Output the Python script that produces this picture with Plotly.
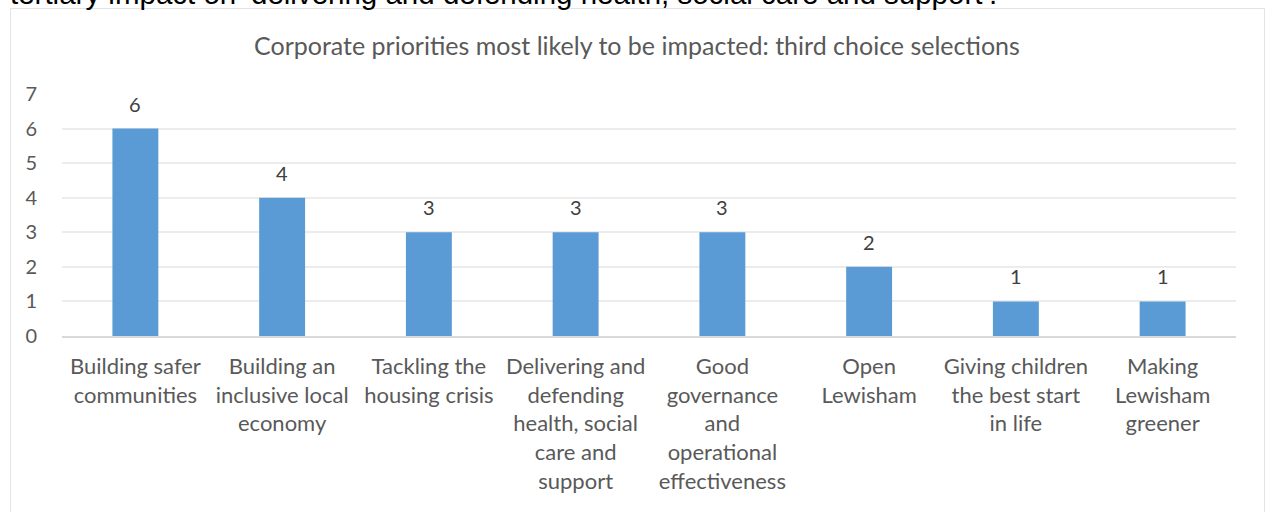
import plotly.graph_objects as go

# Corporate priorities and the number of third-choice selections for each
categories = [
    "Building safer<br>communities",
    "Building an<br>inclusive local<br>economy",
    "Tackling the<br>housing crisis",
    "Delivering and<br>defending<br>health, social<br>care and<br>support",
    "Good<br>governance<br>and<br>operational<br>effectiveness",
    "Open<br>Lewisham",
    "Giving children<br>the best start<br>in life",
    "Making<br>Lewisham<br>greener",
]
selections = [6, 4, 3, 3, 3, 2, 1, 1]
y_ticks = [0, 1, 2, 3, 4, 5, 6, 7]

chart_title = "Corporate priorities most likely to be impacted: third choice selections"
lead_text = "tertiary impact on \u2018delivering and defending health, social care and support\u2019."

W, H = 1266, 512
L, R, T, B = 62, 30, 94, 176
plot_w = W - L - R
plot_h = H - T - B

def px_x(p):
    return (p - L) / plot_w

def px_y(p):
    return (H - B - p) / plot_h

FONT = "Lato"
GREY = "#595959"

fig = go.Figure()
fig.add_trace(go.Bar(
    x=list(range(len(categories))),
    y=selections,
    marker=dict(color="#5b9bd5", line=dict(width=0)),
    hoverinfo="skip",
))

# value labels above each bar
annotations = []
for i, v in enumerate(selections):
    annotations.append(dict(
        x=i, y=v, xref="x", yref="y", text=str(v), showarrow=False,
        yanchor="bottom", yshift=11,
        font=dict(family=FONT, size=20, color="#404040"),
    ))

# chart title
annotations.append(dict(
    x=px_x(637), y=px_y(45), xref="paper", yref="paper", text=chart_title,
    showarrow=False, xanchor="center", yanchor="middle",
    font=dict(family=FONT, size=25, color=GREY),
))

# running document text above the chart frame
annotations.append(dict(
    x=px_x(8), y=px_y(12), xref="paper", yref="paper", text=lead_text,
    showarrow=False, xanchor="left", yanchor="bottom",
    font=dict(family="Liberation Sans", size=29.5, color="#000000"),
))

fig.update_layout(
    width=W, height=H,
    margin=dict(l=L, r=R, t=T, b=B, pad=0),
    paper_bgcolor="white", plot_bgcolor="white",
    bargap=0.687,
    showlegend=False,
    annotations=annotations,
    shapes=[dict(
        type="rect", xref="paper", yref="paper",
        x0=px_x(10.5), x1=px_x(1264.5), y0=px_y(560), y1=px_y(8.5),
        line=dict(color="#e3e3e3", width=1), fillcolor="rgba(0,0,0,0)",
        layer="below",
    )],
    xaxis=dict(
        tickmode="array",
        tickvals=list(range(len(categories))),
        ticktext=categories,
        range=[-0.5, len(categories) - 0.5],
        showgrid=False, zeroline=False,
        showline=True, linecolor="#d9d9d9", linewidth=1.5,
        ticks="", ticklabelstandoff=10,
        tickfont=dict(family=FONT, size=22, color=GREY),
        fixedrange=True,
    ),
    yaxis=dict(
        range=[0, 7],
        tickmode="array", tickvals=y_ticks,
        showgrid=True, gridcolor="#ececec", gridwidth=1.5,
        zeroline=False, showline=False,
        ticks="", ticklabelstandoff=24,
        tickfont=dict(family=FONT, size=20, color=GREY),
        fixedrange=True,
    ),
)

fig.write_html("out.html", config={"displayModeBar": False})
